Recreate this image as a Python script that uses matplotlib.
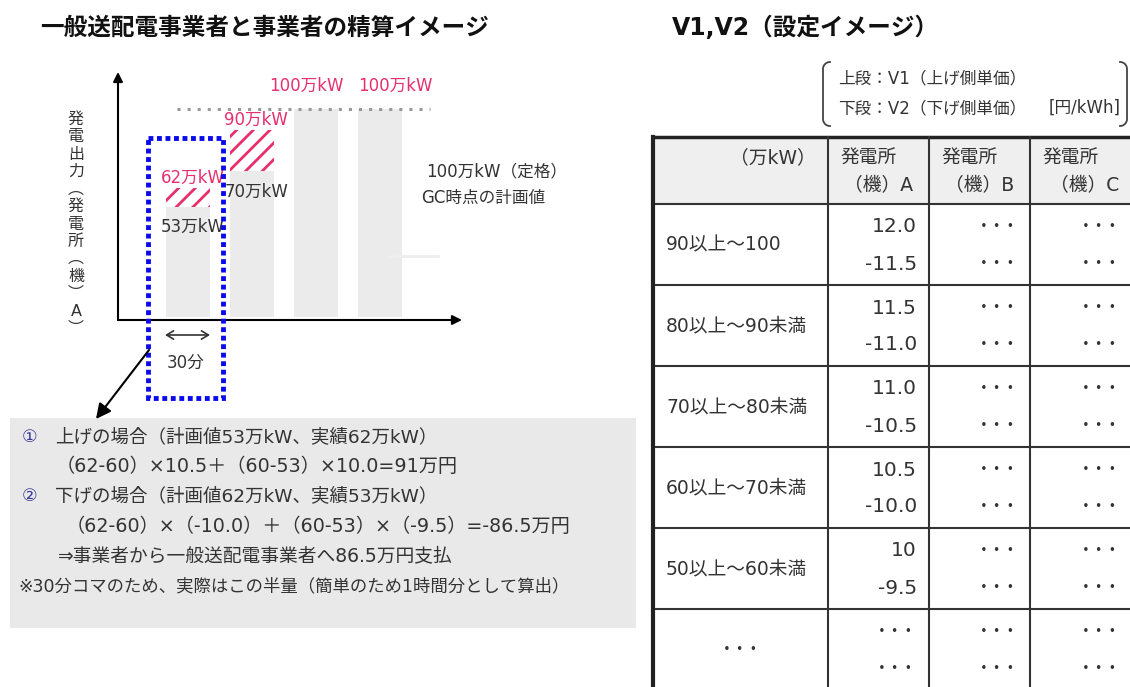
import matplotlib
matplotlib.use("Agg")
import matplotlib.pyplot as plt
import numpy as np
from matplotlib.patches import Rectangle

plt.rcParams["font.family"] = ["DejaVu Sans", "Noto Sans CJK JP"]
plt.rcParams["hatch.linewidth"] = 2.0

W, H = 1130, 687
pink = "#e6306c"
txt = "#333333"

# bar chart values (万kW)
slots = np.array([0, 1, 2, 3])
planned = np.array([53, 70, 100, 100])
actual = np.array([62, 90, 100, 100])
rated = 100

# settlement example text
calc_lines = [
    ("①", "上げの場合（計画値53万kW、実績62万kW）"),
    ("", "（62-60）×10.5＋（60-53）×10.0=91万円"),
    ("②", "下げの場合（計画値62万kW、実績53万kW）"),
    ("", "（62-60）×（-10.0）＋（60-53）×（-9.5）=-86.5万円"),
    ("", "⇒事業者から一般送配電事業者へ86.5万円支払"),
    ("", "※30分コマのため、実際はこの半量（簡単のため1時間分として算出）"),
]

# table values
range_labels = ["90以上～100", "80以上～90未満", "70以上～80未満",
                "60以上～70未満", "50以上～60未満", "・・・"]
v1_a = ["12.0", "11.5", "11.0", "10.5", "10", "・・・"]
v2_a = ["-11.5", "-11.0", "-10.5", "-10.0", "-9.5", "・・・"]
plants = ["A", "B", "C"]

fig = plt.figure(figsize=(W / 100, H / 100), dpi=100)

# ---- bar chart ----
ax = fig.add_axes([118 / W, 1 - 320 / H, 344 / W, 248 / H])
ax.set_xlim(-1.094, 4.281)
ax.set_ylim(-1.44, 117.8)
ax.axis("off")

w = 0.69
ax.bar(slots, planned, width=w, color="#ebebeb", zorder=1)
up = actual > planned
ax.bar(slots[up], (actual - planned)[up], bottom=planned[up], width=w,
       color="white", edgecolor=pink, hatch="//", lw=0, zorder=2)

top_shift = [0, 0, -7, 11]  # points, to keep the two 100万kW labels apart
for x, p, a, dx in zip(slots, planned, actual, top_shift):
    if a > p:
        ax.annotate(f"{a}万kW", (x - w / 2, a), xytext=(-4, 1),
                    textcoords="offset points", ha="left", va="bottom",
                    color=pink, fontsize=12)
        ax.annotate(f"{p}万kW", (x - w / 2, p), xytext=(-4, -8),
                    textcoords="offset points", ha="left", va="top",
                    color=txt, fontsize=12)
    else:
        ax.annotate(f"{a}万kW", (x, a), xytext=(dx, 10),
                    textcoords="offset points", ha="center", va="bottom",
                    color=pink, fontsize=12)

ax.hlines(rated, slots[0] - 0.17, slots[-1] + 0.78, colors="#999999",
          linestyles=(0, (1, 2.3)), lw=2.2, zorder=3)

arrow = dict(arrowstyle="-|>", color="black", lw=1.5, mutation_scale=14,
             shrinkA=0, shrinkB=0)
ax.annotate("", xy=(0, 1), xytext=(0, 0), xycoords="axes fraction",
            textcoords="axes fraction", arrowprops=arrow)
ax.annotate("", xy=(1, 0), xytext=(0, 0), xycoords="axes fraction",
            textcoords="axes fraction", arrowprops=arrow)

# ---- overlay in pixel coordinates ----
ov = fig.add_axes([0, 0, 1, 1])
ov.set_xlim(0, W)
ov.set_ylim(H, 0)
ov.axis("off")
ov.patch.set_alpha(0)

ov.text(40, 28, "一般送配電事業者と事業者の精算イメージ", fontsize=17,
        fontweight="bold", ha="left", va="center", color="#111111")
ov.text(672, 28, "V1,V2（設定イメージ）", fontsize=17,
        fontweight="bold", ha="left", va="center", color="#111111")

ylab = list("発電出力") + ["︵"] + list("発電所") + ["︵", "機", "︶", "A", "︶"]
ov.text(76, 224, "\n".join(ylab), fontsize=11.5, ha="center", va="center",
        linespacing=1.2, color=txt)

ov.text(426, 171, "100万kW（定格）", fontsize=12, ha="left", va="center", color=txt)
ov.text(421, 198, "GC時点の計画値", fontsize=12, ha="left", va="center", color=txt)
ov.plot([388, 438], [256, 256], color="#eeeeee", lw=2)

ov.add_patch(Rectangle((148, 138), 75, 260, fill=False, edgecolor="#0a0aee",
                       lw=3.5, linestyle=(0, (1, 0.75))))
ov.annotate("", xy=(210, 335), xytext=(165, 335),
            arrowprops=dict(arrowstyle="<->,head_length=0.5,head_width=0.3",
                            lw=1.2, color=txt, shrinkA=0, shrinkB=0))
ov.text(186, 363, "30分", fontsize=12, ha="center", va="center", color=txt)
ov.annotate("", xy=(96, 419), xytext=(149, 350),
            arrowprops=dict(arrowstyle="-|>,head_length=0.9,head_width=0.45",
                            lw=1.5, color="black", shrinkA=0, shrinkB=0))

# settlement box
ov.add_patch(Rectangle((10, 418), 626, 210, color="#e9e9e9", lw=0))
line_y = [437, 467, 496, 526, 556, 586]
line_x = [55, 56, 55, 66, 58, 18]
line_fs = [13.3, 13.8, 13.3, 13.8, 13.5, 12.5]
for (mark, s), y, x, fs in zip(calc_lines, line_y, line_x, line_fs):
    if mark:
        ov.text(30, y, mark, fontsize=12.5, ha="center", va="center", color="#3a3a9a")
    ov.text(x, y, s, fontsize=fs, ha="left", va="center", color=txt)

# bracket note
def bracket(x, side):
    t = np.linspace(0, np.pi / 2, 20)
    r = 7
    xs = np.concatenate([x + side * (r - r * np.sin(t)), [x, x],
                         x + side * (r - r * np.sin(t[::-1]))])
    ys = np.concatenate([62 + r - r * np.cos(t), [69, 119],
                         126 - r + r * np.cos(t[::-1])])
    ov.plot(xs, ys, color="#444444", lw=1.3)

bracket(823, 1)
bracket(1127, -1)
ov.text(838, 78, "上段：V1（上げ側単価）", fontsize=12, ha="left", va="center", color=txt)
ov.text(838, 108, "下段：V2（下げ側単価）", fontsize=12, ha="left", va="center", color=txt)
ov.text(1121, 108, "[円/kWh]", fontsize=12, ha="right", va="center", color=txt)

# table
col_x = [653, 828, 929, 1030, 1135]
head_top, head_bot, row_h = 137, 204, 81
ov.add_patch(Rectangle((col_x[0], head_top), W - col_x[0], head_bot - head_top,
                       color="#efefef", lw=0))
n_rows = len(range_labels)
row_top = [head_bot + i * row_h for i in range(n_rows)]
for y in [head_bot] + [t + row_h for t in row_top]:
    ov.plot([col_x[0], W], [y, y], color=txt, lw=1.5)
ov.plot([col_x[0], W], [head_top, head_top], color="#222222", lw=2.5)
ov.plot([col_x[0], col_x[0]], [head_top, H], color="#222222", lw=3)
for x in col_x[1:4]:
    ov.plot([x, x], [head_top, H], color=txt, lw=1.5)

ov.text(col_x[1] - 12, 158, "（万kW）", fontsize=13.5, ha="right", va="center", color=txt)
for j, p in enumerate(plants):
    ov.text(col_x[j + 1] + 12, 158, "発電所", fontsize=13.5, ha="left", va="center", color=txt)
    ov.text(col_x[j + 2] - 16, 186, f"（機）{p}", fontsize=13.5, ha="right", va="center", color=txt)

dots = "・・・"
for i, top in enumerate(row_top):
    lab = range_labels[i]
    if lab == dots:
        ov.text((col_x[0] + col_x[1]) / 2, top + 41, lab, fontsize=10,
                fontweight="bold", ha="center", va="center", color=txt)
    else:
        ov.text(col_x[0] + 13, top + 41, lab, fontsize=13.5, ha="left", va="center", color=txt)
    for k, v in enumerate([v1_a[i], v2_a[i]]):
        y = top + 23 + 37 * k
        if v == dots:
            ov.text(col_x[2] - 13, y, v, fontsize=10, fontweight="bold",
                    ha="right", va="center", color=txt)
        else:
            ov.text(col_x[2] - 12, y, v, fontsize=14.5, ha="right", va="center", color=txt)
        for c in (3, 4):
            ov.text(min(col_x[c], W + 2) - 12, y, dots, fontsize=10, fontweight="bold",
                    ha="right", va="center", color=txt)

fig.savefig("out.png", dpi=100)
